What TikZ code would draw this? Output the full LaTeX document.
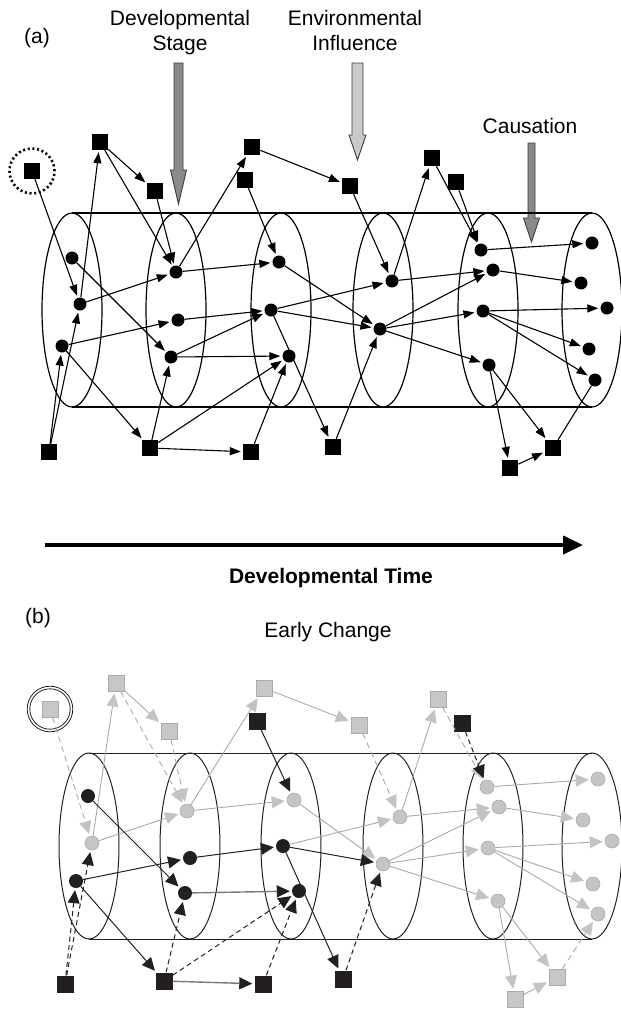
\documentclass[tikz,border=0pt]{standalone}
\usepackage{fontspec}
\setmainfont{Liberation Sans}
\usetikzlibrary{arrows.meta}
\definecolor{nearblack}{HTML}{231F20}
\definecolor{sqgray}{HTML}{C6C7C9}
\definecolor{sqborder}{HTML}{A9AAAC}
\definecolor{dotgray}{HTML}{C4C5C7}
\definecolor{linegray}{HTML}{A8A9AB}
\definecolor{headgray}{HTML}{C2C3C5}
\definecolor{darkline}{HTML}{7A7A7A}
\definecolor{darkfill}{HTML}{8A8A8A}
\definecolor{lightfill}{HTML}{CACACA}
\definecolor{arrowborder}{HTML}{3A3A3A}
\tikzset{
  lab/.style={font=\fontsize{21}{25}\selectfont, inner sep=0pt, anchor=base},
  labbold/.style={font=\fontsize{21}{25}\selectfont\bfseries, inner sep=0pt, anchor=base},
  sqa/.style={rectangle, fill=black, minimum size=16pt, inner sep=0pt},
  dota/.style={circle, fill=black, minimum size=13pt, inner sep=0pt},
  ea/.style={draw=black, line width=1.1pt, -{Triangle[length=11pt,width=8pt]}, shorten >=2pt},
  la/.style={draw=black, line width=1.1pt},
  cyla/.style={draw=black, line width=1.2pt},
  cylb/.style={draw=nearblack, line width=1pt},
  sqg/.style={rectangle, fill=sqgray, draw=sqborder, line width=0.8pt, minimum size=16pt, inner sep=0pt},
  sqb/.style={rectangle, fill=nearblack, minimum size=17pt, inner sep=0pt},
  dotg/.style={circle, fill=dotgray, draw=sqborder, line width=0.6pt, minimum size=14pt, inner sep=0pt},
  dotb/.style={circle, fill=nearblack, minimum size=14pt, inner sep=0pt},
  gs/.style={draw=linegray, line width=0.9pt, -{Triangle[length=13pt,width=12pt,color=headgray]}, shorten >=2pt},
  gd/.style={gs, dash pattern=on 6pt off 4pt},
  bs/.style={draw=nearblack, line width=1pt, -{Triangle[length=13pt,width=12pt,color=nearblack]}, shorten >=2pt},
  bd/.style={bs, dash pattern=on 5pt off 3.5pt},
  dgs/.style={draw=darkline, line width=1.4pt, -{Triangle[length=13pt,width=12pt,color=nearblack]}, shorten >=2pt},
  bigarrow/.style={draw=arrowborder, line width=0.9pt},
}
\begin{document}
\begin{tikzpicture}[x=1pt,y=-1pt]
\useasboundingbox (0,0) rectangle (621,1010);

% ---------------- labels ----------------
\node[lab] (la) at (37,43) {(a)};
\node[lab] (ds1) at (180,25) {Developmental};
\node[lab] (ds2) at (180,50) {Stage};
\node[lab] (ei1) at (355,25) {Environmental};
\node[lab] (ei2) at (355,50) {Influence};
\node[lab] (ca) at (530,133) {Causation};
\node[labbold] (dt) at (331,583) {Developmental Time};
\node[lab] (lb) at (38,623) {(b)};
\node[lab] (ec) at (328,637) {Early Change};

% ---------------- vertical gray arrows ----------------
\draw[bigarrow, fill=darkfill] (174,63) -- (183,63) -- (183,170) -- (186.5,170) -- (178.5,204) -- (170.5,170) -- (174,170) -- cycle;
\draw[bigarrow, fill=lightfill] (352,63) -- (363,63) -- (363,135) -- (366,135) -- (357.5,160) -- (349,135) -- (352,135) -- cycle;
\draw[bigarrow, fill=darkfill] (528,143) -- (535,143) -- (535,218) -- (539.5,218) -- (531.5,242) -- (523.5,218) -- (528,218) -- cycle;

% ---------------- time arrow ----------------
\coordinate (ta) at (45,545);
\coordinate (tb) at (583,545);
\draw[line width=4pt, -{Triangle[length=20pt,width=18pt]}] (ta) -- (tb);

% ---------------- cylinder (a) ----------------
\draw[cyla] (72,213) -- (592,213);
\draw[cyla] (72,407) -- (592,407);
\foreach \cx in {72,176,281,383,488,592}
  \draw[cyla] (\cx,310) ellipse [x radius=30, y radius=97];

% ---------------- nodes (a) ----------------
\node[sqa] (S0) at (32,171) {};
\draw[line width=2.6pt, dash pattern=on 2pt off 2.7pt] (S0.center) circle (22.5pt);
\node[sqa] (S1) at (100,142) {};
\node[sqa] (S2) at (155,191) {};
\node[sqa] (S3) at (252,147) {};
\node[sqa] (S4) at (245,180) {};
\node[sqa] (S5) at (350,186) {};
\node[sqa] (S6) at (432,158) {};
\node[sqa] (S7) at (456,182) {};
\node[sqa] (S8) at (49,452) {};
\node[sqa] (S9) at (150,448) {};
\node[sqa] (S10) at (251,452) {};
\node[sqa] (S11) at (333,447) {};
\node[sqa] (S12) at (553,448) {};
\node[sqa] (S13) at (510,468) {};

\node[dota] (D1a) at (72,258) {};
\node[dota] (D1b) at (80,304) {};
\node[dota] (D1c) at (62,346) {};
\node[dota] (D2a) at (176,272) {};
\node[dota] (D2b) at (178,320) {};
\node[dota] (D2c) at (171,357) {};
\node[dota] (D3a) at (279,262) {};
\node[dota] (D3b) at (271,310) {};
\node[dota] (D3c) at (289,356) {};
\node[dota] (D4a) at (392,281) {};
\node[dota] (D4b) at (380,329) {};
\node[dota] (D5a) at (481,250) {};
\node[dota] (D5b) at (493,270) {};
\node[dota] (D5c) at (483,311) {};
\node[dota] (D5d) at (489,365) {};
\node[dota] (D6a) at (592,243) {};
\node[dota] (D6b) at (581,283) {};
\node[dota] (D6c) at (607,308) {};
\node[dota] (D6d) at (589,349) {};
\node[dota] (D6e) at (595,380) {};

% ---------------- edges (a) ----------------
\draw[ea] (S0) -- (D1b);
\draw[ea] (D1b) -- (S1);
\draw[ea] (S1) -- (S2);
\draw[ea] (S1) -- (D2a);
\draw[ea] (S2) -- (D2a);
\draw[ea] (D2a) -- (S3);
\draw[ea] (S4) -- (D3a);
\draw[ea] (S3) -- (S5);
\draw[ea] (S5) -- (D4a);
\draw[ea] (D4a) -- (S6);
\draw[ea] (S6) -- (D5a);
\draw[ea] (S7) -- (D5a);
\draw[ea] (D5a) -- (D6a);
\draw[ea] (D5b) -- (D6b);
\draw[ea] (D5c) -- (D6c);
\draw[ea] (D5c) -- (D6d);
\draw[ea] (D5c) -- (D6e);
\draw[ea] (D4a) -- (D5b);
\draw[ea] (D4b) -- (D5b);
\draw[ea] (D4b) -- (D5c);
\draw[ea] (D4b) -- (D5d);
\draw[ea] (D5d) -- (S13);
\draw[ea] (D5d) -- (S12);
\draw[la] (S12) -- (D6e);
\draw[ea] (S13) -- (S12);
\draw[ea] (D3b) -- (S11);
\draw[ea] (S11) -- (D4b);
\draw[ea] (D3a) -- (D4b);
\draw[ea] (D3b) -- (D4b);
\draw[ea] (D3b) -- (D4a);
\draw[ea] (D2a) -- (D3a);
\draw[ea] (D2b) -- (D3b);
\draw[ea] (D2c) -- (D3b);
\draw[ea] (D2c) -- (D3c);
\draw[ea] (S9) -- (D3c);
\draw[ea] (S10) -- (D3c);
\draw[ea] (S9) -- (S10);
\draw[ea] (S9) -- (D2c);
\draw[ea] (D1c) -- (S9);
\draw[ea] (D1c) -- (D2b);
\draw[ea] (D1b) -- (D2a);
\draw[ea] (S8) -- (D1c);
\draw[ea] (S8) -- (D1b);
\draw[ea] (D1a) -- (D2c);

% ---------------- cylinder (b) ----------------
\draw[cylb] (89,753) -- (592,753);
\draw[cylb] (89,939) -- (592,939);
\foreach \cx in {89,190,291,393,493,592}
  \draw[cylb] (\cx,846) ellipse [x radius=30, y radius=93];

% ---------------- nodes (b) ----------------
\node[sqg] (G0) at (50,709) {};
\draw[draw=nearblack, line width=0.8pt] (G0.center) circle (22.8pt);
\draw[draw=nearblack, line width=0.8pt] (G0.center) circle (20.2pt);
\node[sqg] (G1) at (116,683) {};
\node[sqg] (G2) at (169,731) {};
\node[sqg] (G3) at (264,688) {};
\node[sqb] (B4) at (257,721) {};
\node[sqg] (G5) at (359,725) {};
\node[sqg] (G6) at (438,699) {};
\node[sqb] (B7) at (462,723) {};
\node[sqb] (B8) at (65,984) {};
\node[sqb] (B9) at (164,981) {};
\node[sqb] (B10) at (263,984) {};
\node[sqb] (B11) at (343,979) {};
\node[sqg] (G12) at (557,977) {};
\node[sqg] (G13) at (515,999) {};

\node[dotb] (b1a) at (88,796) {};
\node[dotg] (b1b) at (92,843) {};
\node[dotb] (b1c) at (76,881) {};
\node[dotg] (b2a) at (187,811) {};
\node[dotb] (b2b) at (190,858) {};
\node[dotb] (b2c) at (185,893) {};
\node[dotg] (b3a) at (294,800) {};
\node[dotb] (b3b) at (283,846) {};
\node[dotb] (b3c) at (299,891) {};
\node[dotg] (b4a) at (400,817) {};
\node[dotg] (b4b) at (383,864) {};
\node[dotg] (b5a) at (487,787) {};
\node[dotg] (b5b) at (499,807) {};
\node[dotg] (b5c) at (488,848) {};
\node[dotg] (b5d) at (498,901) {};
\node[dotg] (b6a) at (598,779) {};
\node[dotg] (b6b) at (583,820) {};
\node[dotg] (b6c) at (612,841) {};
\node[dotg] (b6d) at (593,884) {};
\node[dotg] (b6e) at (598,914) {};

% ---------------- edges (b) ----------------
% gray solid
\draw[gs] (b1b) -- (G1);
\draw[gs] (G1) -- (G2);
\draw[gs] (b2a) -- (G3);
\draw[gs] (G3) -- (G5);
\draw[gs] (b4a) -- (G6);
\draw[gs] (b5a) -- (b6a);
\draw[gs] (b5b) -- (b6b);
\draw[gs] (b5c) -- (b6c);
\draw[gs] (b5c) -- (b6d);
\draw[gs] (b5c) -- (b6e);
\draw[gs] (b4a) -- (b5b);
\draw[gs] (b4b) -- (b5b);
\draw[gs] (b4b) -- (b5c);
\draw[gs] (b4b) -- (b5d);
\draw[gs] (b5d) -- (G13);
\draw[gs] (b5d) -- (G12);
\draw[gs] (G13) -- (G12);
\draw[gs] (b3a) -- (b4b);
\draw[gs] (b3b) -- (b4a);
\draw[gs] (b2a) -- (b3a);
\draw[gs] (b1b) -- (b2a);
% gray dashed
\draw[gd] (G0) -- (b1b);
\draw[gd] (G1) -- (b2a);
\draw[gd] (G2) -- (b2a);
\draw[gd] (G5) -- (b4a);
\draw[gd] (G6) -- (b5a);
\draw[gd] (G12) -- (b6e);
% dark gray with black heads
\draw[dgs] (B9) -- (B10);
\draw[dgs] (b2c) -- (b3c);
% black solid
\draw[bs] (B4) -- (b3a);
\draw[bs] (b3b) -- (B11);
\draw[bs] (b3b) -- (b4b);
\draw[bs] (b2b) -- (b3b);
\draw[bs] (b1c) -- (b2b);
\draw[bs] (b1c) -- (B9);
\draw[bs] (b1a) -- (b2c);
% black dashed
\draw[bd] (B7) -- (b5a);
\draw[bd] (B11) -- (b4b);
\draw[bd] (B8) -- (b1c);
\draw[bd] (B8) -- (b1b);
\draw[bd] (B9) -- (b2c);
\draw[bd] (B9) -- (b3c);
\draw[bd] (B10) -- (b3c);
\end{tikzpicture}
\end{document}
